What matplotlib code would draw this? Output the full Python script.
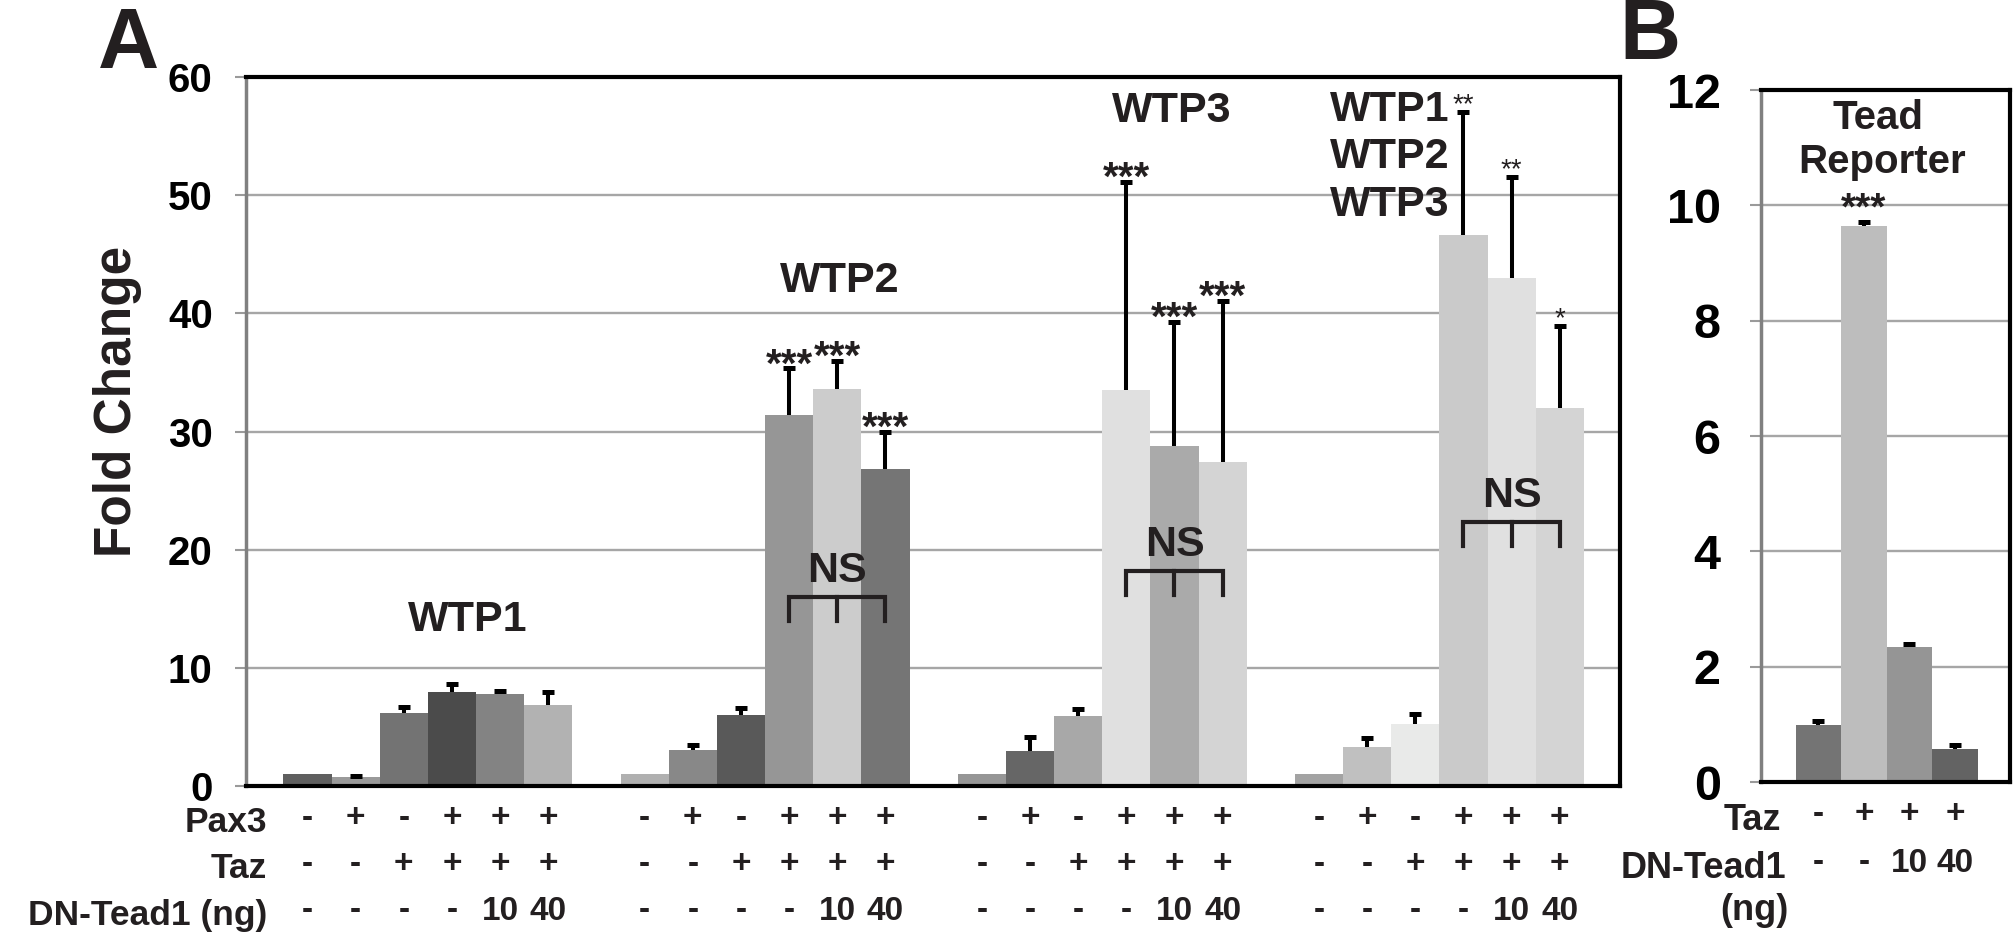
import numpy as np
import matplotlib
matplotlib.use("Agg")
import matplotlib.pyplot as plt
from matplotlib.transforms import blended_transform_factory

plt.rcParams['font.family'] = ['Liberation Sans', 'DejaVu Sans']
plt.rcParams['font.weight'] = 'bold'

# ---- data ----
groups = ['WTP1', 'WTP2', 'WTP3', 'WTP1\nWTP2\nWTP3']
wtp1 = [1.0, 0.75, 6.2, 7.95, 7.75, 6.85]
wtp1_err = [np.nan, 0.12, 0.45, 0.65, 0.3, 1.1]
wtp2 = [1.0, 3.05, 6.0, 31.4, 33.6, 26.8]
wtp2_err = [np.nan, 0.4, 0.6, 3.95, 2.4, 3.2]
wtp3 = [1.0, 2.95, 5.95, 33.55, 28.75, 27.4]
wtp3_err = [np.nan, 1.2, 0.55, 17.6, 10.55, 13.65]
wtp123 = [1.0, 3.3, 5.25, 46.6, 43.0, 32.0]
wtp123_err = [np.nan, 0.75, 0.85, 10.4, 8.5, 6.9]

colors_a = [
    ['#5f5f5f', '#9a9a9a', '#737373', '#4b4b4b', '#838383', '#b2b2b2'],
    ['#b0b0b0', '#888888', '#595959', '#969696', '#cccccc', '#757575'],
    ['#969696', '#666666', '#a8a8a8', '#e0e0e0', '#aaaaaa', '#d4d4d4'],
    ['#a3a3a3', '#c0c0c0', '#e9eae9', '#cacaca', '#e0e0e0', '#d4d4d4'],
]
stars_a = [
    ['', '', '', '', '', ''],
    ['', '', '', '***', '***', '***'],
    ['', '', '', '***', '***', '***'],
    ['', '', '', '**', '**', '*'],
]
ns_y = [None, 16.0, 18.2, 22.3]

pax3 = ['-', '+', '-', '+', '+', '+']
taz = ['-', '-', '+', '+', '+', '+']
dn_tead = ['-', '-', '-', '-', '10', '40']

tead = [0.99, 9.64, 2.34, 0.57]
tead_err = [0.07, 0.07, 0.06, 0.08]
colors_b = ['#747474', '#bdbdbd', '#959595', '#636363']
taz_b = ['-', '+', '+', '+']
dn_b = ['-', '-', '10', '40']

W, H = 2013, 932
TXT = '#231f20'


def box(l, t, r, b):
    return [l / W, 1 - b / H, (r - l) / W, (b - t) / H]


def upper_err(ax, x, v, e):
    # one-sided error bars: hide the lower cap
    eb = ax.errorbar(x, v, yerr=[np.zeros(len(e)), e], fmt='none', ecolor='black',
                     elinewidth=2.9, capsize=4, capthick=3.6, zorder=3)
    eb[1][0].set_visible(False)


def style_axes(ax, ymax, step, fs, pad):
    ax.set_ylim(0, ymax)
    ax.set_yticks(np.arange(0, ymax + 0.1, step))
    ax.yaxis.grid(True, color='#a6a6a6', lw=1.7, zorder=0)
    ax.set_axisbelow(True)
    ax.set_xticks([])
    ax.tick_params(axis='y', length=8, width=1.5, color='#9a9a9a',
                   labelsize=fs, pad=pad, labelcolor='black')
    for s in ['top', 'right', 'bottom']:
        ax.spines[s].set_linewidth(3)
        ax.spines[s].set_color('black')
    ax.spines['left'].set_color('#808080')
    ax.spines['left'].set_linewidth(2.5)


fig = plt.figure(figsize=(W / 100, H / 100), dpi=100)

# ---- panel A ----
axA = fig.add_axes(box(246, 77, 1620, 786))
vals = [wtp1, wtp2, wtp3, wtp123]
errs = [wtp1_err, wtp2_err, wtp3_err, wtp123_err]
for g in range(4):
    x = np.arange(6) + 7 * g
    v = np.array(vals[g])
    e = np.array(errs[g])
    axA.bar(x, v, width=1.0, color=colors_a[g], zorder=2)
    m = ~np.isnan(e)
    upper_err(axA, x[m], v[m], e[m])
    for i in range(6):
        s = stars_a[g][i]
        if not s:
            continue
        big = s == '***'
        axA.annotate(s, (x[i], v[i] + e[i]), xytext=(0, -6 if big else 0),
                     textcoords='offset points', ha='center', va='baseline',
                     fontsize=29 if big else 20,
                     fontweight='bold' if big else 'normal', color=TXT, zorder=4)
    if ns_y[g] is not None:
        y0 = ns_y[g]
        xs = x[3:6]
        axA.plot([xs[0], xs[0], xs[2], xs[2]], [y0 - 2.0, y0, y0, y0 - 2.0],
                 color=TXT, lw=3, solid_joinstyle='miter', zorder=4)
        axA.plot([xs[1], xs[1]], [y0, y0 - 2.0], color=TXT, lw=3, zorder=4)
        axA.text(xs[1], y0 + 2.2, 'NS', ha='center', va='center',
                 fontsize=31, color=TXT, zorder=4)

axA.set_xlim(-1.277, 27.25)
style_axes(axA, 60, 10, 29, 16)

axA.text(3.33, 14.05, groups[0], ha='center', va='center', fontsize=31, color=TXT)
axA.text(11.05, 42.7, groups[1], ha='center', va='center', fontsize=31, color=TXT)
axA.text(17.95, 57.1, groups[2], ha='center', va='center', fontsize=31, color=TXT)
axA.text(22.47, 53.2, groups[3], ha='center', va='center', fontsize=31,
         color=TXT, linespacing=1.25)

# condition rows under panel A
trA = blended_transform_factory(axA.transData, fig.transFigure)
rows_y = [818, 864, 911]
for g in range(4):
    for i in range(6):
        xi = 7 * g + i
        for r, lab in enumerate([pax3, taz, dn_tead]):
            axA.text(xi, 1 - rows_y[r] / H, lab[i], transform=trA,
                     ha='center', va='center', fontsize=24, color=TXT, clip_on=False)
for r, lab in enumerate(['Pax3', 'Taz', 'DN-Tead1 (ng)']):
    fig.text(267 / W, 1 - (rows_y[r] + 5) / H, lab, ha='right', va='center',
             fontsize=25.5, color=TXT)

fig.text(118 / W, 1 - 401 / H, 'Fold Change', rotation=90, ha='center',
         va='center', fontsize=37, color=TXT)
fig.text(129 / W, 1 - 46 / H, 'A', ha='center', va='center', fontsize=61, color=TXT)

# ---- panel B ----
axB = fig.add_axes(box(1761, 90, 2010, 782))
xb = np.arange(4)
axB.bar(xb, tead, width=1.0, color=colors_b, zorder=2)
upper_err(axB, xb, np.array(tead), np.array(tead_err))
axB.annotate('***', (1, tead[1] + tead_err[1]), xytext=(0, 2),
             textcoords='offset points', ha='center', va='baseline',
             fontsize=28, color=TXT)
axB.text(1.3, 11.52, 'Tead', ha='center', va='center', fontsize=29, color=TXT)
axB.text(1.4, 10.75, 'Reporter', ha='center', va='center', fontsize=29, color=TXT)
axB.set_xlim(-1.264, 4.21)
style_axes(axB, 12, 2, 35, 21)

trB = blended_transform_factory(axB.transData, fig.transFigure)
rows_b = [815, 863]
for i in range(4):
    for r, lab in enumerate([taz_b, dn_b]):
        axB.text(xb[i], 1 - rows_b[r] / H, lab[i], transform=trB,
                 ha='center', va='center', fontsize=24, color=TXT, clip_on=False)
fig.text(1781 / W, 1 - 820 / H, 'Taz', ha='right', va='center', fontsize=26, color=TXT)
fig.text(1786 / W, 1 - 868 / H, 'DN-Tead1', ha='right', va='center', fontsize=26, color=TXT)
fig.text(1754 / W, 1 - 910 / H, '(ng)', ha='center', va='center', fontsize=26, color=TXT)
fig.text(1650 / W, 1 - 37 / H, 'B', ha='center', va='center', fontsize=61, color=TXT)

fig.savefig('out.png', dpi=100)
